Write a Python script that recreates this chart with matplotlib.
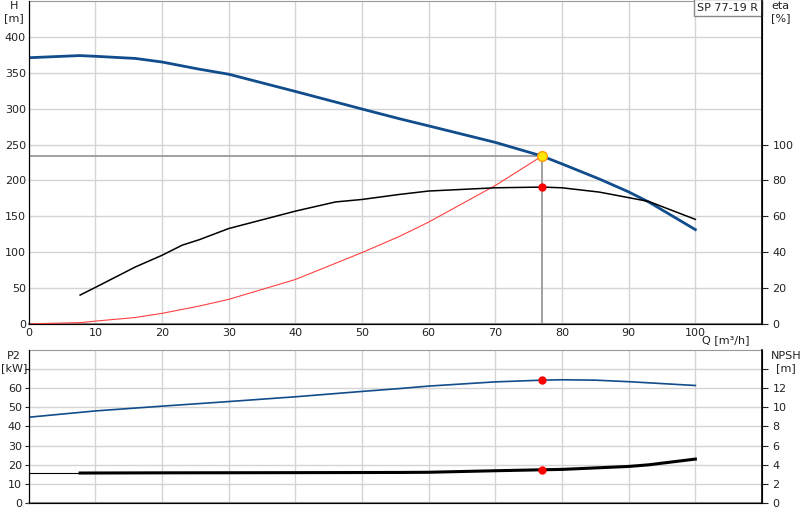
import numpy as np
import matplotlib.pyplot as plt

# pump curve data
q_h = [0, 7.6, 10, 16, 20, 25.6, 30, 40, 50, 55.6, 60, 70, 77, 80, 85.6, 90, 93, 100]
h = [371, 374, 373, 370, 365, 355, 348, 324, 299.5, 286, 276, 253, 234, 223, 202, 184, 170, 131.5]

q_eta = [7.7, 10, 16, 20, 23, 25.6, 30, 40, 46, 50, 55.6, 60, 70, 77, 80, 85.6, 90, 93, 100]
eta = [16.1, 20.4, 31.8, 38.3, 43.9, 47, 53.2, 62.9, 68, 69.4, 72.2, 74.1, 75.9, 76.3, 75.9, 73.5, 70.4, 68.3, 58.3]

q_sys = [0, 8, 10, 16, 20, 25.6, 30, 40, 50, 55.6, 60, 70, 77]
h_sys = [0, 2, 4, 9, 14.8, 25, 34.3, 62, 99.5, 122, 142, 193, 234]

q_p2 = [0, 10, 20, 30, 40, 50, 55.6, 60, 70, 77, 80, 85, 90, 100]
p2 = [44.8, 48.1, 50.6, 53.0, 55.5, 58.3, 59.8, 61.1, 63.3, 64.2, 64.4, 64.2, 63.4, 61.4]

q_npsh = [7.7, 20, 40, 55.6, 60, 70, 77, 80, 90, 93, 100]
npsh = [3.12, 3.14, 3.16, 3.18, 3.2, 3.36, 3.46, 3.5, 3.81, 3.98, 4.58]

q_duty = 77
h_duty = 234
eta_duty = 76.3
p2_duty = 64.2
npsh_duty = 3.46
npsh_ref = 3.14

blue = '#114d8c'
grid_c = '#d4d4d4'
txt = '#222222'

fig = plt.figure(figsize=(8, 5.2), dpi=100)
ax = fig.add_axes([0.036, 0.377, 0.9165, 0.621])
ax2 = ax.twinx()
bx = fig.add_axes([0.036, 0.033, 0.9165, 0.294])
bx2 = bx.twinx()

for a in (ax, bx):
    a.set_xlim(0, 110)
    a.set_xticks(range(0, 101, 10))
    a.grid(True, color=grid_c, lw=1)
    a.set_axisbelow(True)
    a.tick_params(labelsize=8, colors=txt, length=3, width=0.8)
    a.spines['left'].set_color('black')
    a.spines['top'].set_color('#999999')
    a.spines['bottom'].set_color('#888888')
    a.spines['bottom'].set_linewidth(1.5)
for a in (ax2, bx2):
    a.tick_params(labelsize=8, colors=txt, length=4, width=0.8)
    a.spines['right'].set_color('black')
    a.spines['right'].set_linewidth(1.2)
    a.spines['top'].set_visible(False)

# main panel
ax.set_ylim(0, 450)
ax.set_yticks(range(0, 401, 50))
ax.tick_params(axis='y', length=0, pad=2)
ax.tick_params(axis='x', length=0, pad=3)
ax2.set_ylim(0, 180)
ax2.set_yticks(range(0, 101, 20))

ax.plot([0, q_duty], [h_duty, h_duty], color='#9a9a9a', lw=1.3, zorder=2)
ax.plot([q_duty, q_duty], [0, h_duty], color='#9a9a9a', lw=1.3, zorder=2)
ax.plot(q_sys, h_sys, color='#ff4040', lw=0.8, zorder=3)
ax2.plot(q_eta, eta, color='black', lw=1.1, zorder=3)
ax.plot(q_h, h, color=blue, lw=2, zorder=4)
ax2.plot([q_duty], [eta_duty], 'o', color='red', ms=5, zorder=5)
ax.plot([q_duty], [h_duty], 'o', color='#ffe800', mec='#ff9a00', mew=1, ms=7, zorder=6)

ax.text(-0.02, 1.0, 'H\n[m]', transform=ax.transAxes, ha='center', va='top', fontsize=8, color=txt)
ax.text(1.025, 1.0, 'eta\n[%]', transform=ax.transAxes, ha='center', va='top', fontsize=8, color=txt)
ax.text(104.5, -16, 'Q [m³/h]', ha='center', va='top', fontsize=8, color=txt)
ax.text(0.995, 0.995, 'SP 77-19 R', transform=ax.transAxes, ha='right', va='top', fontsize=8, color=txt,
        bbox=dict(boxstyle='square,pad=0.3', fc='white', ec='#888888', lw=1))

# lower panel
bx.set_ylim(0, 80)
bx.set_yticks(range(0, 71, 10))
bx.set_yticklabels([str(v) for v in range(0, 61, 10)] + [''])
bx.tick_params(axis='y', pad=2)
bx.tick_params(axis='x', length=0, labelbottom=False)
bx2.set_ylim(0, 16)
bx2.set_yticks(range(0, 15, 2))
bx2.set_yticklabels([str(v) for v in range(0, 13, 2)] + [''])

bx2.plot([0, q_npsh[0]], [npsh_ref, npsh_ref], color='black', lw=0.8, zorder=3)
bx.plot(q_p2, p2, color=blue, lw=1.2, zorder=3)
bx2.plot(q_npsh, npsh, color='black', lw=2.2, zorder=3)
bx.plot([q_duty], [p2_duty], 'o', color='red', ms=5, zorder=5)
bx2.plot([q_duty], [npsh_duty], 'o', color='red', ms=5, zorder=5)

bx.text(-0.02, 0.99, 'P2\n[kW]', transform=bx.transAxes, ha='center', va='top', fontsize=8, color=txt)
bx.text(1.033, 0.99, 'NPSH\n[m]', transform=bx.transAxes, ha='center', va='top', fontsize=8, color=txt)

fig.savefig('out.png', dpi=100)
